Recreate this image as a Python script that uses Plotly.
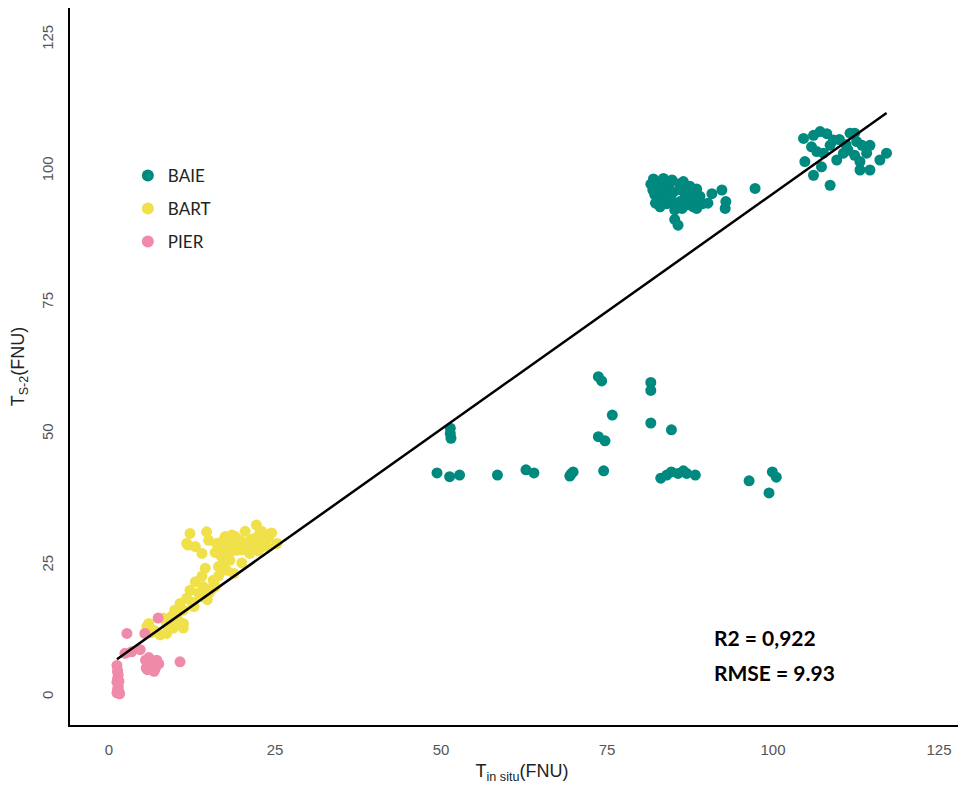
import plotly.graph_objects as go
import numpy as np

# ---------------- data ----------------
baie_x = [49.4, 51.3, 52.8, 51.4, 51.4, 51.5, 58.5, 62.8, 64.0, 69.4, 69.9, 69.6, 74.5,
          73.7, 74.2, 75.8, 73.7, 74.7, 81.6, 81.6, 81.6, 84.7, 83.1, 84.0, 84.7, 85.7,
          86.5, 87.0, 88.3, 96.4, 99.4, 99.9, 100.5,
          # upper-left cluster
          81.6, 82.0, 82.5, 82.2, 82.8, 83.0, 83.5, 83.8, 83.4, 84.0, 84.3, 84.8, 85.0,
          84.6, 85.4, 85.9, 86.2, 86.0, 86.5, 86.8, 87.2, 87.5, 87.8, 88.2, 88.5, 89.0,
          89.4, 82.3, 83.0, 85.2, 86.3, 84.0, 81.9, 83.2, 87.0, 88.0,
          90.2, 88.5, 90.8, 92.3, 92.9, 92.8, 97.3, 85.2, 85.7,
          # upper-right cluster
          104.8, 104.6, 106.1, 107.1, 108.1, 105.8, 106.6, 107.6, 108.6, 109.1, 107.3,
          106.1, 108.6, 109.6, 110.6, 111.3, 111.6, 112.3, 112.6, 113.4, 112.3, 113.1,
          113.1, 114.6, 114.6, 114.1, 116.1, 117.1, 110.0, 111.0]
baie_y = [42.6, 41.9, 42.2, 51.1, 50.1, 49.2, 42.2, 43.2, 42.6, 42.0, 42.8, 42.4, 43.0,
          60.9, 60.1, 53.6, 49.5, 48.7, 59.8, 58.3, 52.1, 50.8, 41.6, 42.2, 42.8, 42.5,
          43.0, 42.5, 42.2, 41.1, 38.8, 42.8, 41.8,
          97.5, 98.5, 96.8, 95.5, 94.5, 97.9, 98.6, 96.2, 95.0, 93.8, 97.4, 98.3, 96.0,
          94.6, 93.5, 97.6, 96.4, 94.2, 98.0, 95.3, 93.6, 97.1, 95.8, 94.5, 96.6, 95.2,
          93.8, 93.9, 93.2, 92.6, 92.9, 95.6, 96.4, 96.6, 96.6, 93.2,
          93.9, 92.9, 95.7, 96.4, 94.2, 92.9, 96.7, 90.8, 89.7,
          101.8, 106.2, 106.8, 107.5, 107.1, 104.6, 103.7, 103.4, 104.9, 105.9, 100.8,
          99.2, 97.3, 102.1, 103.4, 104.0, 107.2, 107.2, 105.6, 104.9, 103.0, 101.8,
          100.2, 100.2, 104.9, 103.4, 102.1, 103.4, 106.0, 105.0]

bart_x = [11.9, 13.0, 14.0, 14.7, 15.0, 16.2, 16.7, 17.5, 17.7, 17.0, 17.2, 17.7, 18.2,
          19.0, 19.7, 19.2, 21.2, 21.7, 22.2, 22.7, 22.0, 23.5, 22.7, 23.8, 25.3,
          13.0, 14.2, 15.7, 16.0, 15.0, 13.7, 12.2, 11.7, 10.7, 9.9, 11.2, 9.4, 10.4,
          8.7, 9.7, 11.2, 5.7, 6.7, 7.7, 8.7, 9.7, 10.7, 11.2, 12.2, 11.7, 18.5, 20.5,
          16.5, 14.5, 12.5, 8.2, 6.2, 24.5, 20.0, 18.8, 15.5, 14.0, 16.8,
          16.0, 17.0, 18.0, 19.0, 20.0, 21.0, 22.0, 23.0, 17.5, 18.5, 19.5, 16.5, 21.5,
          22.5, 23.5, 24.0, 13.5, 12.8, 10.2, 9.0, 7.2, 6.0, 14.8, 15.8, 17.8, 20.8]
bart_y = [28.9, 28.6, 27.3, 31.4, 29.8, 29.2, 27.9, 30.5, 28.6, 26.7, 25.4, 24.1, 26.0,
          29.2, 29.8, 27.9, 27.3, 28.6, 32.7, 31.1, 30.2, 29.8, 28.6, 28.6, 29.2,
          21.9, 21.0, 22.2, 21.0, 19.7, 19.1, 20.3, 18.8, 17.8, 16.5, 16.5, 15.3, 14.6,
          13.7, 13.4, 14.0, 13.4, 12.7, 11.8, 12.1, 13.1, 14.0, 13.1, 31.1, 29.2, 30.8, 31.5,
          23.0, 24.5, 18.0, 15.0, 12.2, 31.2, 25.5, 23.5, 20.5, 23.0, 27.0,
          27.5, 29.5, 27.0, 30.5, 28.0, 29.5, 29.0, 31.5, 25.8, 29.8, 28.4, 24.8, 30.0,
          27.8, 31.0, 30.2, 19.8, 17.2, 15.8, 12.9, 12.4, 14.0, 18.5, 21.5, 27.2, 29.0]

pier_x = [1.2, 1.3, 1.4, 1.3, 1.2, 1.4, 1.3, 1.5, 1.6, 1.2, 1.5, 1.3,
          2.7, 2.4, 3.4, 4.7, 5.4, 7.4,
          5.5, 6.0, 6.5, 7.0, 5.8, 7.5, 6.2, 5.6, 7.2, 6.8, 10.7]
pier_y = [6.0, 5.0, 4.2, 3.5, 2.8, 2.0, 1.5, 1.0, 0.6, 0.8, 3.0, 4.8,
          12.1, 8.3, 8.6, 9.0, 12.1, 15.0,
          7.0, 7.5, 6.0, 5.5, 5.2, 6.3, 6.5, 5.5, 7.0, 4.9, 6.7]

fit_intercept = 6.1
fit_slope = 0.896
stats_lines = ["R2 = 0,922", "RMSE = 9.93"]

series_names = ["BAIE", "BART", "PIER"]
series_colors = ["#00897f", "#f0e14a", "#ef8aa8"]

x_ticks = [0, 25, 50, 75, 100, 125]
y_ticks = [0, 25, 50, 75, 100, 125]

# ---------------- figure ----------------
fig = go.Figure()
for name, xs, ys, col in zip(series_names, [baie_x, bart_x, pier_x],
                             [baie_y, bart_y, pier_y], series_colors):
    fig.add_trace(go.Scatter(x=xs, y=ys, mode="markers", name=name, legendgroup=name,
                             marker=dict(color=col, size=11, line=dict(width=0))))

all_x = baie_x + bart_x + pier_x
lx = np.array([min(all_x), max(all_x)])
fig.add_trace(go.Scatter(x=lx, y=fit_intercept + fit_slope * lx, mode="lines",
                         line=dict(color="black", width=2.5), showlegend=False,
                         hoverinfo="skip"))

for i, txt in enumerate(stats_lines):
    fig.add_annotation(x=90.8, y=11.4 - i * 6.65, xref="x", yref="y", text="<b>%s</b>" % txt,
                       showarrow=False, xanchor="left", yanchor="middle",
                       font=dict(family="Lato, Open Sans, sans-serif", size=21, color="black"))

tick_font = dict(family="Liberation Sans Narrow, Liberation Sans, Arial", size=15, color="#555555")
title_font = dict(family="Liberation Sans Narrow, Liberation Sans, Arial", size=18, color="#222222")

fig.update_layout(
    width=966, height=790,
    margin=dict(l=62, r=0, t=0, b=73),
    plot_bgcolor="white", paper_bgcolor="white",
    showlegend=True,
    legend=dict(x=0.064, y=0.791, xanchor="left", yanchor="top",
                font=dict(family="Lato, Open Sans, sans-serif", size=17, color="#222222"),
                bgcolor="rgba(0,0,0,0)", itemsizing="constant", traceorder="grouped",
                tracegroupgap=8, itemwidth=30),
    xaxis=dict(range=[-5.87, 130.27], showgrid=False, zeroline=False, showline=True,
               linecolor="black", linewidth=1.5, tickvals=x_ticks, ticks="",
               tickfont=tick_font, ticklabelstandoff=10, automargin=False,
               title=dict(text="T<sub>in situ</sub>(FNU)", font=title_font, standoff=8)),
    yaxis=dict(range=[-5.32, 131.0], showgrid=False, zeroline=False, showline=True,
               linecolor="black", linewidth=1.5, tickvals=y_ticks, ticks="",
               tickangle=-90, tickfont=tick_font, ticklabelstandoff=9, automargin=False,
               title=dict(text="T<sub>S-2</sub>(FNU)", font=title_font, standoff=14)),
)

fig.write_html("out.html")
